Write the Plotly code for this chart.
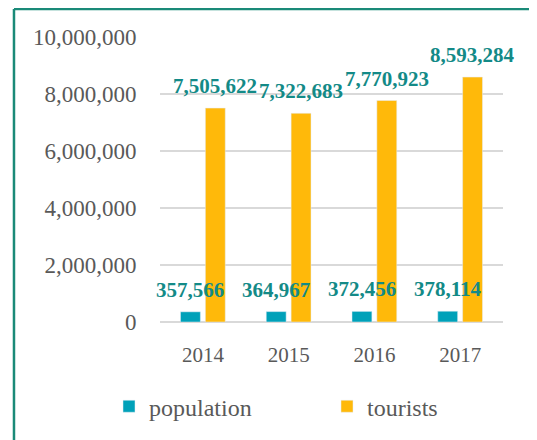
import plotly.graph_objects as go

years = ["2014", "2015", "2016", "2017"]
population = [357566, 364967, 372456, 378114]
tourists = [7505622, 7322683, 7770923, 8593284]

label_color = "#138a87"
grey = "#595959"
font = "Liberation Serif"

fig = go.Figure()
fig.add_trace(go.Bar(x=years, y=population, name="population", marker_color="#00a1b9"))
fig.add_trace(go.Bar(x=years, y=tourists, name="tourists", marker_color="#ffb90a"))

# value labels above the bars; numeric-looking category names would be read
# as an index on the category axis, so address each category by its position
for i, (p, t) in enumerate(zip(population, tourists)):
    fig.add_annotation(x=i, y=p, text=f"<b>{p:,}</b>", showarrow=False, xshift=-12.5,
                       yanchor="bottom", yshift=8,
                       font=dict(family=font, size=21, color=label_color))
    fig.add_annotation(x=i, y=t, text=f"<b>{t:,}</b>", showarrow=False, xshift=12.5,
                       yanchor="bottom", yshift=8,
                       font=dict(family=font, size=21, color=label_color))

# green frame (left and top edges)
frame = dict(color="#1a8a78", width=2.5)
fig.add_shape(type="line", xref="paper", yref="paper", x0=-0.4257, x1=-0.4257, y0=-0.6, y1=1.098, line=frame)
fig.add_shape(type="line", xref="paper", yref="paper", x0=-0.4257, x1=1.2, y0=1.098, y1=1.098, line=frame)

fig.update_layout(
    width=537, height=440,
    margin=dict(l=152, r=42, t=29, b=126),
    paper_bgcolor="white", plot_bgcolor="white",
    barmode="group", bargap=0.42, bargroupgap=0.2,
    font=dict(family=font, color=grey),
    showlegend=True,
    legend=dict(orientation="h", x=-0.085, xanchor="left", y=-0.297, yanchor="middle",
                font=dict(family=font, size=24, color=grey), entrywidth=173),
)
fig.update_xaxes(type="category", categoryorder="array", categoryarray=years,
                 range=[-0.5, len(years) - 0.5], showgrid=False, showline=False,
                 ticks="outside", ticklen=14, tickcolor="rgba(0,0,0,0)",
                 tickfont=dict(family=font, size=21, color=grey))
fig.update_yaxes(range=[0, 10000000], dtick=2000000, tickformat=",", showgrid=True,
                 gridcolor="#d9d9d9", gridwidth=1.5, zeroline=True, zerolinecolor="#d9d9d9",
                 zerolinewidth=1.5, showline=False,
                 ticks="outside", ticklen=18, tickcolor="rgba(0,0,0,0)",
                 tickfont=dict(family=font, size=23, color=grey))

fig.write_html("out.html")
